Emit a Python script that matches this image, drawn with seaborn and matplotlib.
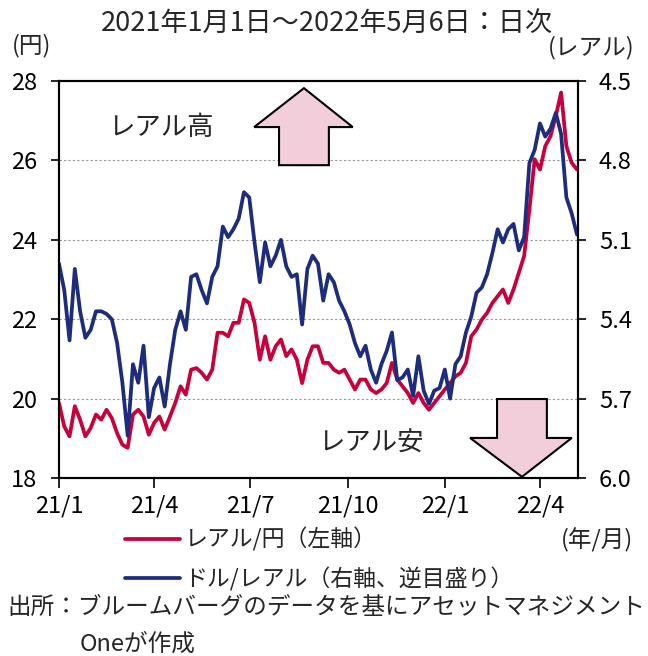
import matplotlib
matplotlib.use("Agg")
from matplotlib import pyplot as plt
from matplotlib.patches import Polygon
from matplotlib.lines import Line2D
import pandas as pd
import seaborn as sns

# 5-day sampling, values
dates = pd.date_range("2021-01-01", "2022-05-06", freq="5D")

brl_jpy = [
    19.89, 19.30, 19.05, 19.81, 19.47, 19.05, 19.26, 19.60, 19.47, 19.72,
    19.51, 19.13, 18.84, 18.76, 19.60, 19.72, 19.55, 19.09, 19.39, 19.55,
    19.22, 19.55, 19.89, 20.31, 20.10, 20.73, 20.77, 20.65, 20.48, 20.73,
    21.66, 21.66, 21.57, 21.91, 21.91, 22.50, 22.41, 21.91, 20.98, 21.57,
    20.98, 21.32, 21.49, 21.07, 21.24, 20.98, 20.39, 20.98, 21.32, 21.32,
    20.90, 20.90, 20.73, 20.65, 20.73, 20.48, 20.23, 20.48, 20.48, 20.23,
    20.14, 20.23, 20.39, 20.90, 20.48, 20.31, 20.14, 19.89, 20.14, 19.89,
    19.72, 19.89, 20.06, 20.23, 20.39, 20.56, 20.65, 20.90, 21.57, 21.74,
    21.99, 22.16, 22.41, 22.58, 22.75, 22.41, 22.75, 23.17, 23.59, 24.76,
    26.03, 25.77, 26.36, 26.61, 27.12, 27.71, 26.36, 25.94, 25.77,
]

usd_brl = [
    5.19, 5.29, 5.48, 5.21, 5.37, 5.47, 5.44, 5.37, 5.37, 5.38,
    5.40, 5.49, 5.64, 5.84, 5.57, 5.64, 5.50, 5.77, 5.66, 5.62,
    5.73, 5.57, 5.44, 5.37, 5.44, 5.24, 5.23, 5.29, 5.34, 5.24,
    5.20, 5.05, 5.09, 5.06, 5.02, 4.92, 4.94, 5.11, 5.26, 5.11,
    5.20, 5.16, 5.10, 5.20, 5.24, 5.23, 5.42, 5.21, 5.16, 5.19,
    5.33, 5.23, 5.26, 5.33, 5.37, 5.42, 5.49, 5.54, 5.50, 5.59,
    5.64, 5.57, 5.52, 5.45, 5.63, 5.62, 5.59, 5.69, 5.54, 5.67,
    5.72, 5.67, 5.66, 5.59, 5.70, 5.57, 5.54, 5.45, 5.39, 5.30,
    5.28, 5.23, 5.15, 5.06, 5.11, 5.06, 5.04, 5.14, 5.09, 4.81,
    4.76, 4.66, 4.71, 4.68, 4.62, 4.70, 4.94, 5.00, 5.08,
]

xtick_dates = ["2021-01-01", "2021-04-01", "2021-07-01",
               "2021-10-01", "2022-01-01", "2022-04-01"]
xtick_labels = ["21/1", "21/4", "21/7", "21/10", "22/1", "22/4"]
yen_ticks = [18, 20, 22, 24, 26, 28]
real_ticks = [4.5, 4.8, 5.1, 5.4, 5.7, 6.0]

RED = "#C8003C"
BLUE = "#1E2C7C"
PINK = "#F2CEDB"

sns.set_theme(style="white")
plt.rcParams["font.family"] = ["Noto Sans CJK JP", "DejaVu Sans"]

df = pd.DataFrame({"date": dates, "brl_jpy": brl_jpy, "usd_brl": usd_brl})

fig = plt.figure(figsize=(6.48, 6.56), dpi=100)
ax = fig.add_axes([0.091, 0.2713, 0.801, 0.6052])
ax2 = ax.twinx()

sns.lineplot(data=df, x="date", y="brl_jpy", color=RED, lw=2.7, ax=ax)
sns.lineplot(data=df, x="date", y="usd_brl", color=BLUE, lw=2.7, ax=ax2)

ax.set_xlim(pd.Timestamp("2021-01-01"), pd.Timestamp("2022-05-07"))
ax.set_ylim(18, 28)
ax2.set_ylim(6.0, 4.5)

ax.set_xticks(pd.to_datetime(xtick_dates))
ax.set_xticklabels(xtick_labels)
ax.set_yticks(yen_ticks)
ax2.set_yticks(real_ticks)
ax2.set_yticklabels([f"{v:.1f}" for v in real_ticks])

ax.grid(axis="y", linestyle=(0, (2, 2)), color="#9a9a9a", lw=0.8)
ax.set_xlabel("")
ax.set_ylabel("")
ax2.set_ylabel("")

for a in (ax, ax2):
    for s in a.spines.values():
        s.set_color("black")
        s.set_linewidth(1.5)
ax.tick_params(axis="x", bottom=True, direction="out", length=7, width=1.2,
               pad=5, labelsize=17, colors="black")
ax.tick_params(axis="y", left=True, direction="out", length=6, width=1.2,
               pad=10, labelsize=17, colors="black")
ax2.tick_params(axis="y", right=True, direction="out", length=6, width=1.2,
                pad=9, labelsize=17, colors="black")

# arrows (axes fraction)
up = [(0.472, 0.982), (0.566, 0.884), (0.520, 0.884), (0.520, 0.788),
      (0.424, 0.788), (0.424, 0.884), (0.376, 0.884)]
down = [(0.844, 0.199), (0.940, 0.199), (0.940, 0.101), (0.988, 0.101),
        (0.892, 0.003), (0.792, 0.101), (0.844, 0.101)]
for pts in (up, down):
    ax2.add_patch(Polygon(pts, closed=True, facecolor=PINK, edgecolor="black",
                          lw=1.5, transform=ax2.transAxes, zorder=5))
ax2.text(0.095, 0.884, "レアル高", transform=ax2.transAxes, fontsize=19,
         va="center", ha="left")
ax2.text(0.5, 0.087, "レアル安", transform=ax2.transAxes, fontsize=19,
         va="center", ha="left")

fig.text(0.505, 0.965, "2021年1月1日～2022年5月6日：日次", ha="center",
         va="center", fontsize=19.5)
fig.text(0.048, 0.931, "(円)", ha="center", va="center", fontsize=17)
fig.text(0.912, 0.927, "(レアル)", ha="center", va="center", fontsize=17)
fig.text(0.922, 0.177, "(年/月)", ha="center", va="center", fontsize=17)

handles = [Line2D([], [], color=RED, lw=2.7), Line2D([], [], color=BLUE, lw=2.7)]
fig.legend(handles, ["レアル/円（左軸）", "ドル/レアル（右軸、逆目盛り）"],
           loc="upper left", bbox_to_anchor=(0.193, 0.196), frameon=False,
           fontsize=16.5, handlelength=2.4, handletextpad=0.2, borderpad=0,
           borderaxespad=0, labelspacing=0.68)

fig.text(0.012, 0.074, "出所：ブルームバーグのデータを基にアセットマネジメント",
         ha="left", va="center", fontsize=17)
fig.text(0.123, 0.018, "Oneが作成", ha="left", va="center", fontsize=17)

plt.savefig("out.png", dpi=100)
